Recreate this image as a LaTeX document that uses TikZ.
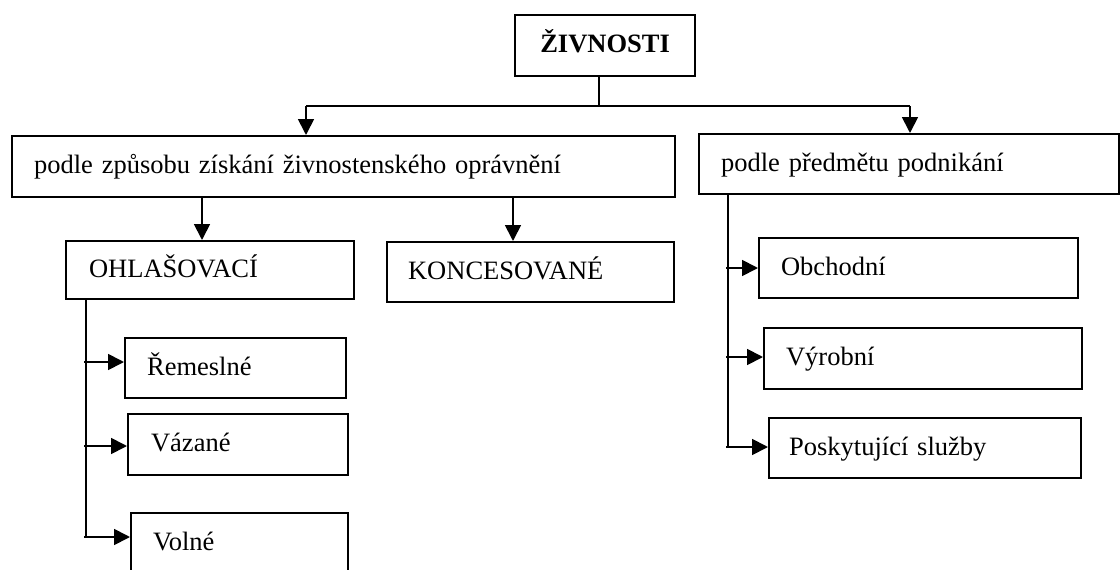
\documentclass[tikz,border=0pt]{standalone}
\usepackage{fontspec}
\setmainfont{Liberation Serif}
\usetikzlibrary{arrows.meta}
\begin{document}
\begin{tikzpicture}[x=1pt,y=-1pt,
  box/.style={draw, line width=2.2pt, anchor=north west, inner ysep=0pt,
    align=left, text height=19pt, text depth=5pt,
    font=\fontsize{26.5}{30}\selectfont},
  link/.style={line width=1.8pt},
  arr/.style={link, -{Triangle[length=16pt,width=16pt]}}]
\useasboundingbox (0,0) rectangle (1120,570);
\clip (0,0) rectangle (1120,570);

% root
\node[box, align=center, inner xsep=0pt, minimum width=180pt, minimum height=61pt,
  font=\fontsize{26.5}{30}\selectfont\bfseries] (top) at (514,14) {ŽIVNOSTI};

% two classifications
\node[box, text width=619pt, inner xsep=22pt, minimum height=61pt] (mode) at (11,135)
  {podle způsobu získání živnostenského oprávnění};
\node[box, text width=376pt, inner xsep=22pt, minimum height=60pt] (subject) at (698,133)
  {podle předmětu podnikání};

% by way of obtaining the licence
\node[box, text width=242pt, inner xsep=23pt, minimum height=58pt] (ohl) at (65,240) {OHLAŠOVACÍ};
\node[box, text width=245pt, inner xsep=21pt, minimum height=60pt] (kon) at (386,241) {KONCESOVANÉ};

\node[box, text width=177pt, inner xsep=22pt, minimum height=60pt] (rem) at (124,337) {Řemeslné};
\node[box, text width=174pt, inner xsep=23pt, minimum height=61pt] (vaz) at (127,413) {Vázané};
\node[box, text width=173pt, inner xsep=22pt, minimum height=60pt] (vol) at (130,512) {Volné};

% by subject of business
\node[box, text width=275pt, inner xsep=22pt, minimum height=60pt] (obc) at (758,237) {Obchodní};
\node[box, text width=274pt, inner xsep=22pt, minimum height=61pt] (vyr) at (763,327) {Výrobní};
\node[box, text width=272pt, inner xsep=20pt, minimum height=60pt] (pos) at (768,417) {Poskytující služby};

% junction under the root
\coordinate (hub) at (599,106);
\coordinate (hubL) at (306,106);
\coordinate (hubR) at (910,106);
\draw[link] (top.south -| hub) -- (hub);
\draw[link] (hubL) -- (hubR);
\draw[arr] (hubL) -- (mode.north -| hubL);
\draw[arr] (hubR) -- (subject.north -| hubR);

% mode -> its two kinds
\coordinate (toOhl) at (202,0);
\coordinate (toKon) at (513,0);
\draw[arr] (mode.south -| toOhl) -- (ohl.north -| toOhl);
\draw[arr] (mode.south -| toKon) -- (kon.north -| toKon);

% trunk under OHLAŠOVACÍ
\coordinate (trunkL) at (86,0);
\coordinate (rRem) at (84,362);
\coordinate (rVaz) at (84,446);
\coordinate (rVol) at (84,537);
\draw[link] (ohl.south -| trunkL) -- (rVol -| trunkL);
\draw[arr] (rRem) -- (rem.west |- rRem);
\draw[arr] (rVaz) -- (vaz.west |- rVaz);
\draw[arr] (rVol) -- (vol.west |- rVol);

% trunk under the subject box
\coordinate (trunkR) at (728,0);
\coordinate (rObc) at (726,268);
\coordinate (rVyr) at (726,357);
\coordinate (rPos) at (726,447);
\draw[link] (subject.south -| trunkR) -- (rPos -| trunkR);
\draw[arr] (rObc) -- (obc.west |- rObc);
\draw[arr] (rVyr) -- (vyr.west |- rVyr);
\draw[arr] (rPos) -- (pos.west |- rPos);
\end{tikzpicture}
\end{document}
